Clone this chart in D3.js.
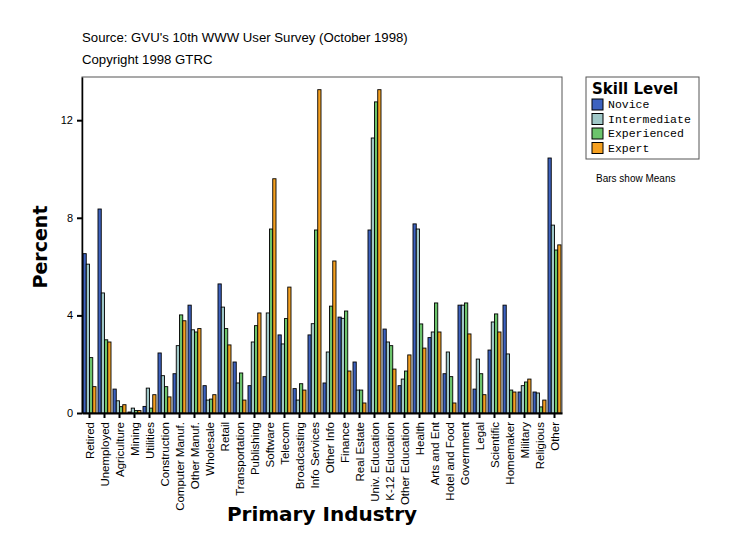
<!DOCTYPE html>
<html>
<head>
<meta charset="utf-8">
<script src="https://cdn.jsdelivr.net/npm/d3@7"></script>
<style>
  body { margin: 0; background: #fff; }
  svg { display: block; }
</style>
</head>
<body>
<div id="chart"></div>
<script>
// Skill level means by primary industry (GVU 10th survey)
const categories = ["Retired", "Unemployed", "Agriculture", "Mining", "Utilities", "Construction",
    "Computer Manuf.", "Other Manuf.", "Wholesale", "Retail", "Transportation", "Publishing",
    "Software", "Telecom", "Broadcasting", "Info Services", "Other Info", "Finance", "Real Estate",
    "Univ. Education", "K-12 Education", "Other Education", "Health", "Arts and Ent",
    "Hotel and Food", "Government", "Legal", "Scientific", "Homemaker", "Military", "Religious", "Other"];

const seriesNames = ["Novice", "Intermediate", "Experienced", "Expert"];
const seriesColors = ["#3d62c0", "#a0c8c8", "#6cc46c", "#f5a020"];

const novice = [6.53, 8.36, 0.98, 0.04, 0.27, 2.46, 1.61, 4.42, 1.12, 5.29, 2.09, 1.12,
    1.49, 3.2, 1.0, 3.2, 1.23, 3.93, 2.09, 7.5, 3.44, 1.12, 7.75, 3.09,
    1.61, 4.42, 0.98, 2.58, 4.42, 0.86, 0.86, 10.45];
const intermediate = [6.1, 4.92, 0.5, 0.2, 1.02, 1.53, 2.76, 3.41, 0.53, 4.34, 1.23, 2.91,
    4.1, 2.83, 0.53, 3.66, 2.5, 3.88, 0.94, 11.27, 2.91, 1.39, 7.54, 3.32,
    2.5, 4.42, 2.21, 3.73, 2.42, 1.12, 0.82, 7.7];
const experienced = [2.27, 3.0, 0.26, 0.1, 0.2, 1.08, 4.02, 3.32, 0.57, 3.46, 1.64, 3.58,
    7.54, 3.87, 1.2, 7.5, 4.38, 4.18, 0.94, 12.75, 2.76, 1.72, 3.65, 4.51,
    1.49, 4.51, 1.61, 4.06, 0.94, 1.27, 0.25, 6.68];
const expert = [1.08, 2.91, 0.34, 0.1, 0.75, 0.66, 3.78, 3.46, 0.75, 2.79, 0.53, 4.1,
    9.6, 5.16, 0.94, 13.25, 6.23, 1.72, 0.41, 13.25, 1.8, 2.38, 2.66, 3.32,
    0.41, 3.24, 0.75, 3.32, 0.86, 1.39, 0.53, 6.89];

const seriesValues = [novice, intermediate, experienced, expert];
const yTicks = [0, 4, 8, 12];

const W = 733, H = 560;
const margin = { top: 77, right: 171, bottom: 147, left: 82 };
const width = W - margin.left - margin.right;
const height = H - margin.top - margin.bottom;

const svg = d3.select("#chart").append("svg")
    .attr("width", W)
    .attr("height", H);

// Titles
svg.append("text")
    .attr("x", 82).attr("y", 42)
    .attr("font-family", "Liberation Sans, Arial, sans-serif")
    .attr("font-size", "13.2px")
    .text("Source: GVU's 10th WWW User Survey (October 1998)");
svg.append("text")
    .attr("x", 82).attr("y", 64)
    .attr("font-family", "Liberation Sans, Arial, sans-serif")
    .attr("font-size", "13.2px")
    .text("Copyright 1998 GTRC");

const g = svg.append("g")
    .attr("transform", `translate(${margin.left},${margin.top})`);

// Scales
const x = d3.scaleBand()
    .domain(categories)
    .range([0, width]);

const xs = d3.scaleBand()
    .domain(seriesNames)
    .range([1, x.bandwidth() - 1]);

const y = d3.scaleLinear()
    .domain([0, 13.77])
    .range([height, 0]);

// Frame
g.append("rect")
    .attr("x", 0).attr("y", 0)
    .attr("width", width).attr("height", height)
    .attr("fill", "none")
    .attr("stroke", "#555")
    .attr("stroke-width", 1);

// Bars
const rows = categories.map((c, i) => ({
    cat: c,
    vals: seriesNames.map((s, j) => ({ s, j, v: seriesValues[j][i] }))
}));

g.selectAll("g.cat")
    .data(rows)
    .join("g")
    .attr("class", "cat")
    .attr("transform", d => `translate(${x(d.cat)},0)`)
    .selectAll("rect")
    .data(d => d.vals)
    .join("rect")
    .attr("x", d => xs(d.s))
    .attr("width", xs.bandwidth())
    .attr("y", d => y(d.v))
    .attr("height", d => y(0) - y(d.v))
    .attr("fill", d => seriesColors[d.j])
    .attr("stroke", "#000")
    .attr("stroke-width", 0.9);

// Axes
const yAxis = g.append("g")
    .call(d3.axisLeft(y).tickValues(yTicks).tickSize(5).tickSizeOuter(0));
yAxis.select(".domain").attr("stroke", "#000").attr("stroke-width", 1.5);
yAxis.selectAll(".tick line").attr("stroke-width", 2);
yAxis.selectAll(".tick text")
    .attr("font-family", "Liberation Sans, Arial, sans-serif")
    .attr("font-size", "11px")
    .attr("x", -9);

const xAxis = g.append("g")
    .attr("transform", `translate(0,${height})`)
    .call(d3.axisBottom(x).tickSize(5).tickSizeOuter(0));
xAxis.select(".domain").attr("stroke", "#000").attr("stroke-width", 2);
xAxis.selectAll(".tick line").attr("stroke-width", 2);
xAxis.selectAll(".tick text")
    .attr("font-family", "Liberation Sans, Arial, sans-serif")
    .attr("font-size", "11.5px")
    .attr("transform", "rotate(-90)")
    .attr("x", -9)
    .attr("y", 0)
    .attr("dy", "0.35em")
    .attr("text-anchor", "end");

// Axis titles
svg.append("text")
    .attr("transform", `translate(47,${margin.top + height / 2 + 2}) rotate(-90)`)
    .attr("text-anchor", "middle")
    .attr("font-family", "DejaVu Sans, sans-serif")
    .attr("font-weight", "bold")
    .attr("font-size", "19px")
    .text("Percent");

svg.append("text")
    .attr("x", margin.left + width / 2)
    .attr("y", 521)
    .attr("text-anchor", "middle")
    .attr("font-family", "DejaVu Sans, sans-serif")
    .attr("font-weight", "bold")
    .attr("font-size", "20px")
    .text("Primary Industry");

// Legend
const lg = svg.append("g").attr("transform", "translate(586,77)");
lg.append("rect")
    .attr("width", 113).attr("height", 82)
    .attr("fill", "#fff")
    .attr("stroke", "#555");
lg.append("text")
    .attr("x", 6).attr("y", 17)
    .attr("font-family", "DejaVu Sans, sans-serif")
    .attr("font-weight", "bold")
    .attr("font-size", "15px")
    .text("Skill Level");
seriesNames.forEach((s, i) => {
    const row = lg.append("g").attr("transform", `translate(6,${22 + i * 14.5})`);
    row.append("rect")
        .attr("width", 11).attr("height", 11)
        .attr("fill", seriesColors[i])
        .attr("stroke", "#000");
    row.append("text")
        .attr("x", 16).attr("y", 9)
        .attr("font-family", "Liberation Mono, Courier New, monospace")
        .attr("font-size", "11.5px")
        .text(s);
});

svg.append("text")
    .attr("x", 596).attr("y", 182)
    .attr("font-family", "Liberation Sans, Arial, sans-serif")
    .attr("font-size", "10px")
    .text("Bars show Means");
</script>
</body>
</html>
